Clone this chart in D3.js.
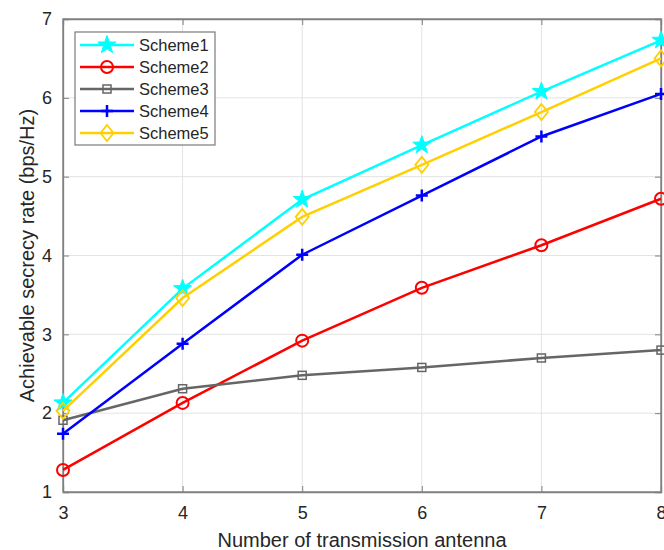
<!DOCTYPE html>
<html>
<head>
<meta charset="utf-8">
<script src="https://cdn.jsdelivr.net/npm/d3@7"></script>
<style>
  html, body { margin: 0; padding: 0; background: #fff; }
  svg { display: block; overflow: hidden; }
  text { font-family: Arial, "Liberation Sans", sans-serif; fill: #262626; }
</style>
</head>
<body>
<svg id="chart" width="664" height="550"></svg>
<script>
// Data
const antennas = [3, 4, 5, 6, 7, 8];
const scheme1 = [2.13, 3.58, 4.71, 5.40, 6.08, 6.73];
const scheme2 = [1.28, 2.13, 2.92, 3.59, 4.13, 4.72];
const scheme3 = [1.91, 2.31, 2.48, 2.58, 2.70, 2.80];
const scheme4 = [1.74, 2.88, 4.01, 4.76, 5.51, 6.05];
const scheme5 = [2.03, 3.46, 4.49, 5.15, 5.82, 6.50];
const seriesNames = ['Scheme1', 'Scheme2', 'Scheme3', 'Scheme4', 'Scheme5'];
const xTicks = [3, 4, 5, 6, 7, 8];
const yTicks = [1, 2, 3, 4, 5, 6, 7];

// Styles
const margin = {left: 63, right: 3, top: 19, bottom: 58};
const width = 664, height = 550;
const axisColor = '#808080';
const gridColor = '#e3e3e3';

const series = [
  {name: seriesNames[0], values: scheme1, color: '#00ffff', marker: 'star'},
  {name: seriesNames[1], values: scheme2, color: '#ff0000', marker: 'circle'},
  {name: seriesNames[2], values: scheme3, color: '#666666', marker: 'square'},
  {name: seriesNames[3], values: scheme4, color: '#0000ff', marker: 'plus'},
  {name: seriesNames[4], values: scheme5, color: '#ffd000', marker: 'diamond'}
];

const svg = d3.select('#chart');

const x = d3.scaleLinear()
  .domain([3, 8])
  .range([margin.left, width - margin.right]);

const y = d3.scaleLinear()
  .domain([1, 7])
  .range([height - margin.bottom, margin.top]);

// Grid
const grid = svg.append('g').attr('class', 'grid');
grid.selectAll('line.gx')
  .data(xTicks)
  .join('line')
  .attr('x1', d => x(d)).attr('x2', d => x(d))
  .attr('y1', y(1)).attr('y2', y(7))
  .style('stroke', gridColor);
grid.selectAll('line.gy')
  .data(yTicks)
  .join('line')
  .attr('class', 'gy')
  .attr('y1', d => y(d)).attr('y2', d => y(d))
  .attr('x1', x(3)).attr('x2', x(8))
  .style('stroke', gridColor);

// Axes
const xAxis = svg.append('g')
  .attr('transform', `translate(0, ${y(1)})`)
  .call(d3.axisBottom(x).tickValues(xTicks).tickSize(-6).tickPadding(14.5).tickFormat(d3.format('d')));
const xAxisTop = svg.append('g')
  .attr('transform', `translate(0, ${y(7)})`)
  .call(d3.axisTop(x).tickValues(xTicks).tickSize(-6).tickFormat(''));
const yAxis = svg.append('g')
  .attr('transform', `translate(${x(3)}, 0)`)
  .call(d3.axisLeft(y).tickValues(yTicks).tickSize(-6).tickPadding(11).tickFormat(d3.format('d')));
const yAxisRight = svg.append('g')
  .attr('transform', `translate(${x(8)}, 0)`)
  .call(d3.axisRight(y).tickValues(yTicks).tickSize(-6).tickFormat(''));

[xAxis, xAxisTop, yAxis, yAxisRight].forEach(a => {
  a.select('.domain').style('stroke', axisColor).style('stroke-width', 1.3);
  a.selectAll('.tick line').style('stroke', axisColor).style('stroke-width', 1);
  a.selectAll('text')
    .style('font-size', '18px')
    .style('fill', '#262626')
    .style('font-family', 'Arial, "Liberation Sans", sans-serif');
});
// full box
svg.append('rect')
  .attr('x', x(3)).attr('y', y(7))
  .attr('width', x(8) - x(3)).attr('height', y(1) - y(7))
  .style('fill', 'none').style('stroke', axisColor).style('stroke-width', 1.3);

// Axis labels
svg.append('text')
  .attr('transform', `translate(${(x(3) + x(8)) / 2}, 547)`)
  .attr('text-anchor', 'middle')
  .style('font-size', '20px')
  .text('Number of transmission antenna');

svg.append('text')
  .attr('transform', `translate(34, ${(y(1) + y(7)) / 2}) rotate(-90)`)
  .attr('text-anchor', 'middle')
  .style('font-size', '20px')
  .text('Achievable secrecy rate (bps/Hz)');

// Markers
const starPath = (r) => {
  let pts = [];
  for (let i = 0; i < 10; i++) {
    let rr = i % 2 === 0 ? r : r * 0.4;
    let a = -Math.PI / 2 + i * Math.PI / 5;
    pts.push([rr * Math.cos(a), rr * Math.sin(a)]);
  }
  return 'M' + pts.map(p => p.join(',')).join('L') + 'Z';
};

const drawMarker = (g, type, color) => {
  if (type === 'star') {
    g.append('path').attr('d', starPath(9.5))
      .style('fill', color).style('stroke', color).style('stroke-width', 1);
  } else if (type === 'circle') {
    g.append('circle').attr('r', 6)
      .style('fill', 'none').style('stroke', color).style('stroke-width', 2);
  } else if (type === 'square') {
    g.append('rect').attr('x', -4).attr('y', -4).attr('width', 8).attr('height', 8)
      .style('fill', 'none').style('stroke', color).style('stroke-width', 1.5);
  } else if (type === 'plus') {
    g.append('path').attr('d', 'M-6,0L6,0M0,-6L0,6')
      .style('fill', 'none').style('stroke', color).style('stroke-width', 2.5);
  } else if (type === 'diamond') {
    g.append('path').attr('d', 'M0,-8L6.5,0L0,8L-6.5,0Z')
      .style('fill', 'none').style('stroke', color).style('stroke-width', 1.8);
  }
};

const line = d3.line()
  .x((d, i) => x(antennas[i]))
  .y(d => y(d));

const plot = svg.append('g').attr('class', 'series');
series.forEach(s => {
  let sg = plot.append('g');
  sg.append('path')
    .attr('d', line(s.values))
    .style('fill', 'none')
    .style('stroke', s.color)
    .style('stroke-width', 2.5);
  s.values.forEach((v, i) => {
    let mg = sg.append('g').attr('transform', `translate(${x(antennas[i])}, ${y(v)})`);
    drawMarker(mg, s.marker, s.color);
  });
});

// Legend
const legend = svg.append('g').attr('class', 'legend');
legend.append('rect')
  .attr('x', 75).attr('y', 32).attr('width', 140).attr('height', 113)
  .style('fill', '#fff').style('stroke', '#7a7a7a').style('stroke-width', 1.2);
series.forEach((s, i) => {
  let ly = 45 + i * 22;
  legend.append('line')
    .attr('x1', 80).attr('x2', 134).attr('y1', ly).attr('y2', ly)
    .style('stroke', s.color).style('stroke-width', 2.5);
  let mg = legend.append('g').attr('transform', `translate(107, ${ly})`);
  drawMarker(mg, s.marker, s.color);
  legend.append('text')
    .attr('x', 139).attr('y', ly + 6)
    .style('font-size', '16.5px')
    .text(s.name);
});
</script>
</body>
</html>
